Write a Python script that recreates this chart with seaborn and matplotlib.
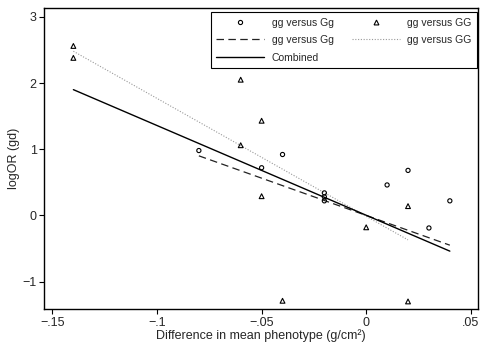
import numpy as np
import pandas as pd
import matplotlib
matplotlib.use("Agg")
import matplotlib.pyplot as plt
import seaborn as sns
from matplotlib.lines import Line2D

# Data: gg versus Gg (circles)
gg_Gg_x = [-0.08, -0.05, -0.04, -0.02, -0.02, -0.02, 0.01, 0.02, 0.03, 0.04]
gg_Gg_y = [0.98, 0.72, 0.92, 0.34, 0.28, 0.22, 0.46, 0.68, -0.19, 0.22]
# Data: gg versus GG (triangles)
gg_GG_x = [-0.14, -0.14, -0.06, -0.06, -0.05, -0.05, -0.04, 0.0, 0.02, 0.02]
gg_GG_y = [2.56, 2.38, 2.05, 1.06, 1.43, 0.29, -1.29, -0.18, 0.14, -1.30]

# Fitted lines (endpoints)
fit_Gg_x = [-0.08, 0.04]
fit_Gg_y = [0.90, -0.45]
fit_GG_x = [-0.14, 0.02]
fit_GG_y = [2.48, -0.37]
fit_comb_x = [-0.14, 0.04]
fit_comb_y = [1.90, -0.54]

xticks = [-0.15, -0.10, -0.05, 0.0, 0.05]
xticklabels = ["\u2212.15", "\u2212.1", "\u2212.05", "0", ".05"]
yticks = [-1, 0, 1, 2, 3]
yticklabels = ["\u22121", "0", "1", "2", "3"]

sns.set_style("ticks")
plt.rcParams['font.family'] = ['Liberation Sans', 'DejaVu Sans']

fig = plt.figure(figsize=(4.8, 3.43), dpi=100)
ax = fig.add_axes([0.0923, 0.098, 0.9037, 0.878])

df_Gg = pd.DataFrame({"x": gg_Gg_x, "y": gg_Gg_y})
df_GG = pd.DataFrame({"x": gg_GG_x, "y": gg_GG_y})

sns.scatterplot(data=df_Gg, x="x", y="y", ax=ax, marker="o", s=9,
                facecolor="none", edgecolor="black", linewidth=0.8, zorder=3)
sns.scatterplot(data=df_GG, x="x", y="y", ax=ax, marker="^", s=12,
                facecolor="none", edgecolor="black", linewidth=0.8, zorder=3)

sns.lineplot(x=fit_Gg_x, y=fit_Gg_y, ax=ax, color="#222222", linewidth=0.9,
             linestyle=(0, (6, 3.5)), zorder=2)
sns.lineplot(x=fit_GG_x, y=fit_GG_y, ax=ax, color="#999999", linewidth=0.8,
             linestyle=(0, (1, 1.5)), zorder=2)
sns.lineplot(x=fit_comb_x, y=fit_comb_y, ax=ax, color="black", linewidth=1.0, zorder=2)

ax.set_xlim(-0.1539, 0.0535)
ax.set_ylim(-1.42, 3.13)
ax.set_xticks(xticks)
ax.set_xticklabels(xticklabels)
ax.set_yticks(yticks)
ax.set_yticklabels(yticklabels)
ax.tick_params(axis="both", labelsize=9, length=3.5, width=0.8, color="black", pad=2)
ax.set_xlabel("Difference in mean phenotype (g/cm\u00b2)", fontsize=9, labelpad=0)
ax.set_ylabel("logOR (gd)", fontsize=9, labelpad=2)
for s in ax.spines.values():
    s.set_linewidth(1.0)
    s.set_color("black")

handles = [
    Line2D([], [], marker="o", markersize=3, markerfacecolor="none",
           markeredgecolor="black", linestyle="none", markeredgewidth=0.8),
    Line2D([], [], color="#222222", linestyle=(0, (6, 3.5)), linewidth=0.9),
    Line2D([], [], color="black", linewidth=1.0),
    Line2D([], [], marker="^", markersize=3.5, markerfacecolor="none",
           markeredgecolor="black", linestyle="none", markeredgewidth=0.8),
    Line2D([], [], color="#999999", linestyle=(0, (1, 1.5)), linewidth=0.8),
    Line2D([], [], color="none"),
]
labels = ["gg versus Gg", "gg versus Gg", "Combined", "gg versus GG", "gg versus GG", ""]
leg = fig.legend(handles, labels, ncol=2, loc="upper right", fontsize=7.5,
                 frameon=True, fancybox=False, edgecolor="black", framealpha=1,
                 handlelength=4.6, handletextpad=0.75, columnspacing=1.7,
                 borderpad=0.5, labelspacing=0.72, borderaxespad=0,
                 bbox_to_anchor=(477 / 480, 1 - 12.3 / 343))
leg.get_frame().set_linewidth(0.8)

fig.savefig("out.png", dpi=100)
